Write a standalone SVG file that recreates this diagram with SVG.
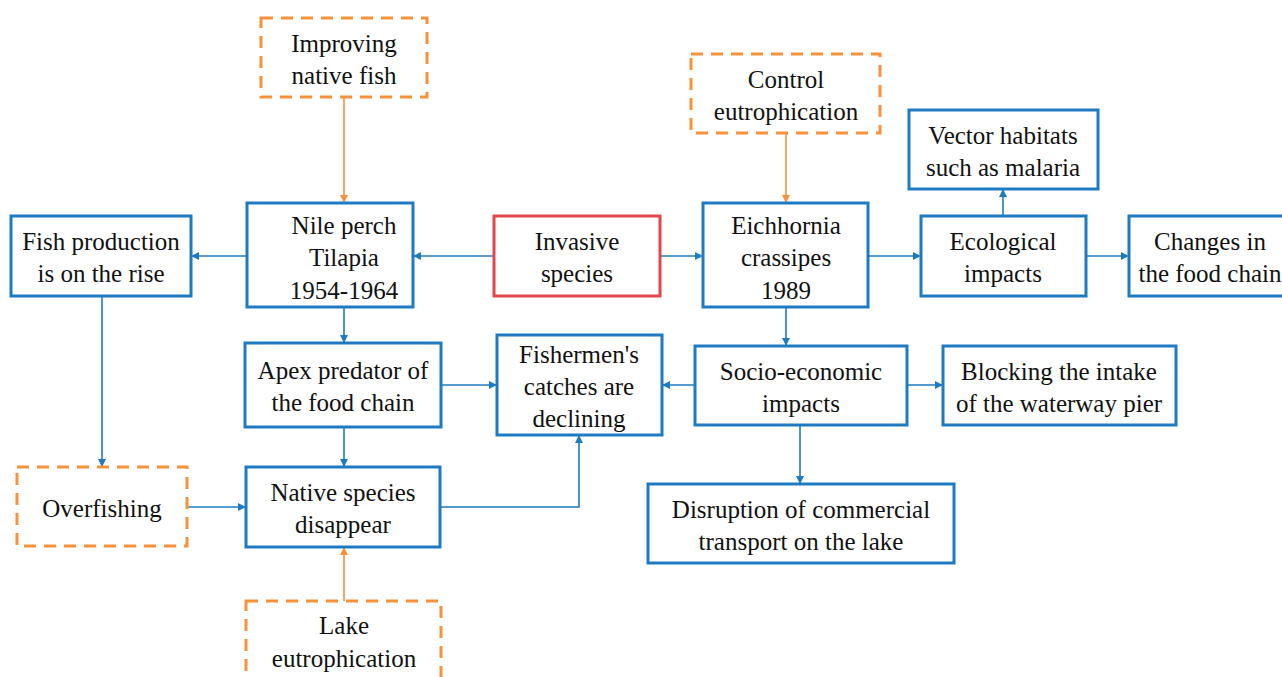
<svg xmlns="http://www.w3.org/2000/svg" width="1282" height="677" viewBox="0 0 1282 677">
<defs>
<style>
.b{fill:#fff;stroke:#1F7BC1;stroke-width:3}
.r{fill:#fff;stroke:#E0474C;stroke-width:3}
.o{fill:#fff;stroke:#F7923A;stroke-width:3;stroke-dasharray:12,8}
text{font-family:'Liberation Serif','Times New Roman','DejaVu Serif',serif;font-size:25px;fill:#111;text-anchor:middle}
.cb{stroke:#1F7BC1;stroke-width:1.6;fill:none;marker-end:url(#ab)}
.co{stroke:#F7923A;stroke-width:1.6;fill:none;marker-end:url(#ao)}
</style>
<marker id="ab" viewBox="0 0 10 10" refX="10" refY="5" markerWidth="8" markerHeight="8" markerUnits="userSpaceOnUse" orient="auto"><path d="M0,0L10,5L0,10z" fill="#1F7BC1"/></marker>
<marker id="ao" viewBox="0 0 10 10" refX="10" refY="5" markerWidth="8" markerHeight="8" markerUnits="userSpaceOnUse" orient="auto"><path d="M0,0L10,5L0,10z" fill="#F7923A"/></marker>
</defs>
<rect width="1282" height="677" fill="#fff"/>
<g id="connectors">
<path class="co" d="M344,97V203"/>
<path class="co" d="M786,133V203"/>
<path class="cb" d="M494,256H413"/>
<path class="cb" d="M247,256H191"/>
<path class="cb" d="M660,256H703"/>
<path class="cb" d="M868,256H921"/>
<path class="cb" d="M1086,256H1129"/>
<path class="cb" d="M1003,216V189"/>
<path class="cb" d="M344,307V343"/>
<path class="cb" d="M786,307V346"/>
<path class="cb" d="M441,385H497"/>
<path class="cb" d="M695,385H662"/>
<path class="cb" d="M907,385H943"/>
<path class="cb" d="M800,425V484"/>
<path class="cb" d="M344,427V467"/>
<path class="cb" d="M102,296V467"/>
<path class="cb" d="M187,507H246"/>
<path class="cb" d="M440,507H579V435"/>
<path class="co" d="M344,601V547"/>
</g>
<g font-family="Liberation Serif, serif">
<g id="improving"><rect class="o" x="261" y="18" width="166" height="79"/><text x="344" y="52">Improving</text><text x="344" y="84">native fish</text></g>
<g id="control"><rect class="o" x="691" y="54" width="189" height="79"/><text x="786" y="88">Control</text><text x="786" y="120">eutrophication</text></g>
<g id="vector"><rect class="b" x="909" y="110" width="189" height="79"/><text x="1003" y="144">Vector habitats</text><text x="1003" y="176">such as malaria</text></g>
<g id="fishprod"><rect class="b" x="11" y="216" width="180" height="80"/><text x="101" y="250">Fish production</text><text x="101" y="282">is on the rise</text></g>
<g id="nileperch"><rect class="b" x="247" y="203" width="166" height="104"/><text x="344" y="234">Nile perch</text><text x="344" y="266">Tilapia</text><text x="344" y="299">1954-1964</text></g>
<g id="invasive"><rect class="r" x="494" y="216" width="166" height="80"/><text x="577" y="250">Invasive</text><text x="577" y="282">species</text></g>
<g id="eichhornia"><rect class="b" x="703" y="203" width="165" height="104"/><text x="786" y="234">Eichhornia</text><text x="786" y="266">crassipes</text><text x="786" y="299">1989</text></g>
<g id="ecological"><rect class="b" x="921" y="216" width="165" height="80"/><text x="1003" y="250">Ecological</text><text x="1003" y="282">impacts</text></g>
<g id="changes"><rect class="b" x="1129" y="216" width="160" height="80"/><text x="1210" y="250">Changes in</text><text x="1210" y="282">the food chain</text></g>
<g id="apex"><rect class="b" x="245" y="343" width="196" height="84"/><text x="343" y="379">Apex predator of</text><text x="343" y="411">the food chain</text></g>
<g id="fishermen"><rect class="b" x="497" y="335" width="165" height="100"/><text x="579" y="363">Fishermen's</text><text x="579" y="395">catches are</text><text x="579" y="427">declining</text></g>
<g id="socio"><rect class="b" x="695" y="346" width="212" height="79"/><text x="801" y="380">Socio-economic</text><text x="801" y="412">impacts</text></g>
<g id="blocking"><rect class="b" x="943" y="346" width="233" height="79"/><text x="1059" y="380">Blocking the intake</text><text x="1059" y="412">of the waterway pier</text></g>
<g id="disruption"><rect class="b" x="648" y="484" width="306" height="79"/><text x="801" y="518">Disruption of commercial</text><text x="801" y="550">transport on the lake</text></g>
<g id="overfishing"><rect class="o" x="17" y="467" width="170" height="79"/><text x="102" y="517">Overfishing</text></g>
<g id="native"><rect class="b" x="246" y="467" width="194" height="80"/><text x="343" y="501">Native species</text><text x="343" y="533">disappear</text></g>
<g id="lake"><rect class="o" x="246" y="601" width="195" height="90"/><text x="344" y="634">Lake</text><text x="344" y="667">eutrophication</text></g>
</g>
</svg>
